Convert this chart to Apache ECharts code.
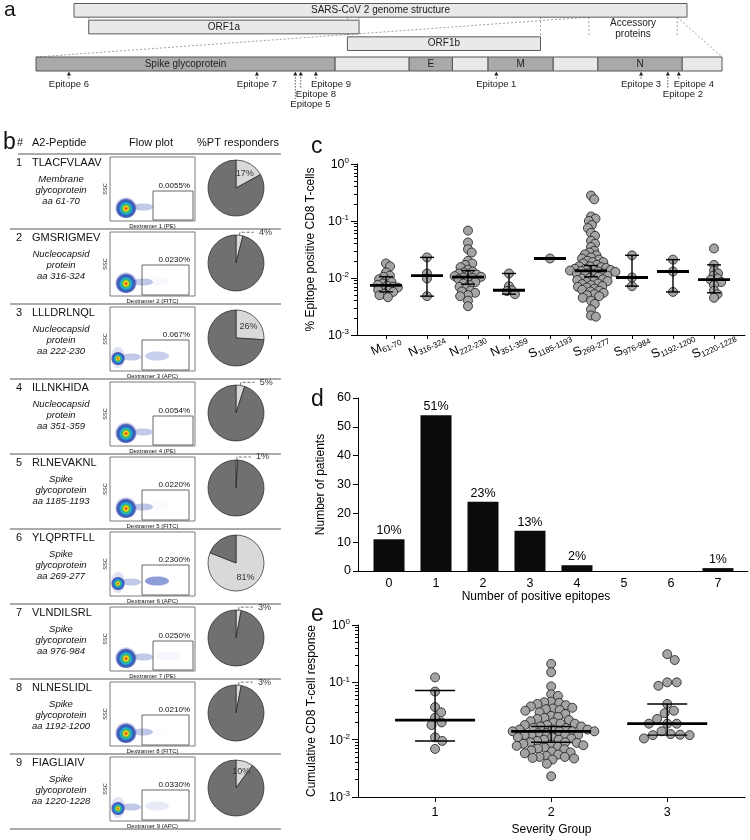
<!DOCTYPE html>
<html><head><meta charset="utf-8">
<script src="https://cdn.jsdelivr.net/npm/echarts@6/dist/echarts.min.js"></script>
<style>html,body{margin:0;padding:0;background:#fff}#chart{width:750px;height:840px}</style>
</head><body><div id="chart"></div>
<script>
// ================= DATA =================
// panel a (schematic units 0..1000)
const genomeNames = ['SARS-CoV 2 genome structure', 'ORF1a', 'ORF1b'];
const genomeStart = [0, 24, 446];
const genomeEnd = [1000, 465, 761];
const genomeRow = [0, 1, 2];
const connectorX = [24, 465, 446, 761, 840, 984];
const connectorRow = [1, 1, 2, 2, 2, 2];
const accessoryLabel = 'Accessory\nproteins';
const structNames = ['Spike glycoprotein', '', 'E', '', 'M', '', 'N', ''];
const structStart = [0, 436, 544, 607, 659, 754, 819, 942];
const structEnd = [436, 544, 607, 659, 754, 819, 942, 1000];
const structCoding = [1, 0, 1, 0, 1, 0, 1, 0];
const epitopeNames = ['Epitope 6', 'Epitope 7', 'Epitope 5', 'Epitope 8', 'Epitope 9', 'Epitope 1', 'Epitope 3', 'Epitope 2', 'Epitope 4'];
const epitopePos = [48, 322, 378, 386, 408, 671, 882, 921, 937];

// panel b
const peptides = ['TLACFVLAAV', 'GMSRIGMEV', 'LLLDRLNQL', 'ILLNKHIDA', 'RLNEVAKNL', 'YLQPRTFLL', 'VLNDILSRL', 'NLNESLIDL', 'FIAGLIAIV'];
const proteins = [
  ['Membrane', 'glycoprotein', 'aa 61-70'],
  ['Nucleocapsid', 'protein', 'aa 316-324'],
  ['Nucleocapsid', 'protein', 'aa 222-230'],
  ['Nucleocapsid', 'protein', 'aa 351-359'],
  ['Spike', 'glycoprotein', 'aa 1185-1193'],
  ['Spike', 'glycoprotein', 'aa 269-277'],
  ['Spike', 'glycoprotein', 'aa 976-984'],
  ['Spike', 'glycoprotein', 'aa 1192-1200'],
  ['Spike', 'glycoprotein', 'aa 1220-1228']
];
const gateLabels = ['0.0055%', '0.0230%', '0.067%', '0.0054%', '0.0220%', '0.2300%', '0.0250%', '0.0210%', '0.0330%'];
const dextramers = ['Dextramer 1 (PE)', 'Dextramer 2 (FITC)', 'Dextramer 3 (APC)', 'Dextramer 4 (PE)', 'Dextramer 5 (FITC)', 'Dextramer 6 (APC)', 'Dextramer 7 (PE)', 'Dextramer 8 (FITC)', 'Dextramer 9 (APC)'];
const ptResponders = [17, 4, 26, 5, 1, 81, 3, 3, 10];

// panel c
const cCatMain = ['M', 'N', 'N', 'N', 'S', 'S', 'S', 'S', 'S'];
const cCatSub = ['61-70', '316-324', '222-230', '351-359', '1185-1193', '269-277', '976-984', '1192-1200', '1220-1228'];
const cM61 = [0.018, 0.016, 0.0125, 0.011, 0.0105, 0.0095, 0.009, 0.0085, 0.008, 0.0076, 0.0073, 0.007, 0.0068, 0.0065, 0.0062, 0.006, 0.0057, 0.0053, 0.005, 0.0046];
const cN316 = [0.023, 0.012, 0.0098, 0.0048];
const cN222 = [0.068, 0.042, 0.032, 0.028, 0.02, 0.018, 0.017, 0.0155, 0.014, 0.013, 0.0125, 0.012, 0.0115, 0.011, 0.0108, 0.0105, 0.0102, 0.01, 0.0095, 0.009, 0.0085, 0.008, 0.0075, 0.007, 0.0065, 0.006, 0.0058, 0.0055, 0.005, 0.0048, 0.004, 0.0032];
const cN351 = [0.012, 0.0072, 0.0061, 0.0059, 0.0052];
const cS1185 = [0.022];
const cS269 = [0.28, 0.24, 0.12, 0.11, 0.1, 0.085, 0.075, 0.062, 0.055, 0.045, 0.04, 0.035, 0.03, 0.028, 0.026, 0.025, 0.023, 0.022, 0.021, 0.02, 0.019, 0.019, 0.018, 0.017, 0.016, 0.016, 0.0155, 0.015, 0.0145, 0.0145, 0.014, 0.0138, 0.0135, 0.0132, 0.013, 0.0128, 0.0125, 0.012, 0.0118, 0.0115, 0.0112, 0.011, 0.0105, 0.01, 0.0098, 0.0095, 0.0092, 0.009, 0.0088, 0.0085, 0.008, 0.0078, 0.0075, 0.0072, 0.007, 0.0068, 0.0065, 0.0062, 0.006, 0.0058, 0.0055, 0.0052, 0.005, 0.0048, 0.0045, 0.004, 0.0035, 0.0028, 0.0022, 0.0021];
const cS976 = [0.025, 0.0102, 0.0072];
const cS1192 = [0.021, 0.013, 0.0057];
const cS1220 = [0.033, 0.017, 0.0135, 0.012, 0.011, 0.0098, 0.0093, 0.0085, 0.0075, 0.006, 0.0052, 0.0045];
const cValues = [cM61, cN316, cN222, cN351, cS1185, cS269, cS976, cS1192, cS1220];
const cMedian = [0.0074, 0.011, 0.0104, 0.0061, 0.022, 0.0133, 0.0102, 0.013, 0.0094];
const cLow = [0.0057, 0.0048, 0.0078, 0.0052, 0.022, 0.0105, 0.0072, 0.0057, 0.0055];
const cHigh = [0.0105, 0.023, 0.0135, 0.012, 0.022, 0.0165, 0.025, 0.021, 0.017];

// panel d
const dCats = [0, 1, 2, 3, 4, 5, 6, 7];
const dCounts = [11, 54, 24, 14, 2, 0, 0, 1];
const dLabels = ['10%', '51%', '23%', '13%', '2%', '', '', '1%'];

// panel e
const eGroups = [1, 2, 3];
const eG1 = [0.122, 0.069, 0.037, 0.030, 0.024, 0.020, 0.018, 0.011, 0.0095, 0.0069];
const eG2 = [0.21, 0.15, 0.085, 0.062, 0.058, 0.046, 0.045, 0.044, 0.042, 0.04, 0.038, 0.036, 0.035, 0.034, 0.033, 0.032, 0.03, 0.028, 0.026, 0.025, 0.024, 0.023, 0.022, 0.021, 0.02, 0.019, 0.019, 0.018, 0.018, 0.017, 0.017, 0.016, 0.016, 0.015, 0.015, 0.015, 0.014, 0.014, 0.014, 0.014, 0.013, 0.013, 0.012, 0.012, 0.012, 0.012, 0.011, 0.011, 0.0105, 0.01, 0.01, 0.0095, 0.009, 0.009, 0.0088, 0.0085, 0.0082, 0.008, 0.0078, 0.0075, 0.0072, 0.007, 0.0068, 0.0065, 0.0062, 0.006, 0.0058, 0.0055, 0.0052, 0.005, 0.005, 0.0048, 0.0047, 0.0045, 0.0038, 0.0023];
const eG3 = [0.31, 0.245, 0.1, 0.1, 0.087, 0.042, 0.032, 0.029, 0.023, 0.019, 0.019, 0.019, 0.014, 0.0125, 0.0122, 0.012, 0.012, 0.0105];
const eValues = [eG1, eG2, eG3];
const eMedian = [0.022, 0.014, 0.019];
const eLow = [0.0095, 0.009, 0.012];
const eHigh = [0.072, 0.017, 0.042];

// ================= LAYOUT / STYLE =================
const FONT = '"Liberation Sans", Arial, Helvetica, sans-serif';
const BLACK = '#000';
const G = {
  a1: { left: 74, top: 2, width: 613, height: 50 },
  a2: { left: 36, top: 57, width: 686, height: 14 },
  tb: { left: 10, top: 154, width: 271, height: 675 },
  c: { left: 357, top: 164, width: 388, height: 171 },
  d: { left: 358, top: 398, width: 390, height: 173 },
  e: { left: 358, top: 625, width: 387, height: 172 }
};
const cX = { min: -0.707, max: 8.756 };
const dX = { min: -0.66, max: 7.64 };
const eX = { min: 0.336, max: 3.67 };
const epiTier = [0, 0, 2, 1, 0, 0, 0, 1, 0];
const epiLeft = [false, false, true, true, true, false, false, true, true];
const cSwarmGap = 5;            // px spacing between point centres (panel c)
const eSwarmGap = [8, 7, 9.5];  // px spacing between point centres (panel e groups)

function swarm(vals, pxPerX, pxPerDec, D) {
  const pts = vals.map(v => ({ v, y: Math.log10(v) * pxPerDec }));
  pts.sort((a, b) => b.y - a.y);
  const placed = [], out = [];
  for (const p of pts) {
    const cands = [0];
    for (const q of placed) {
      const dy = Math.abs(q.y - p.y);
      if (dy < D) { const h = Math.sqrt(D * D - dy * dy); cands.push(q.x + h, q.x - h); }
    }
    cands.sort((a, b) => (Math.abs(a) - Math.abs(b)) || (b - a));
    let x = 0;
    for (const c of cands) {
      let ok = true;
      for (const q of placed) {
        const dx = q.x - c, dy = q.y - p.y;
        if (dx * dx + dy * dy < D * D - 0.01) { ok = false; break; }
      }
      if (ok) { x = c; break; }
    }
    placed.push({ x, y: p.y });
    out.push([x / pxPerX, p.v]);
  }
  return out;
}

const cPxX = G.c.width / (cX.max - cX.min), cPxDec = G.c.height / 3;
const ePxX = G.e.width / (eX.max - eX.min), ePxDec = G.e.height / 3;
const cScatter = [];
cValues.forEach((vals, ci) => swarm(vals, cPxX, cPxDec, cSwarmGap).forEach(p => cScatter.push([ci + p[0], p[1]])));
const eScatter = [];
eValues.forEach((vals, gi) => swarm(vals, ePxX, ePxDec, eSwarmGap[gi]).forEach(p => eScatter.push([eGroups[gi] + p[0], p[1]])));

const minorLogTicks = [];
for (let e = -3; e < 0; e++) for (let k = 2; k <= 9; k++) minorLogTicks.push(Math.log10(k) + e);

function logLabel(v) {
  return '{b|10}{s|' + Math.round(Math.log10(v)) + '}';
}
const logRich = {
  b: { fontSize: 12.5, color: BLACK, fontFamily: FONT, verticalAlign: 'bottom' },
  s: { fontSize: 8, color: BLACK, fontFamily: FONT, verticalAlign: 'top', padding: [0, 0, 6, 0] }
};

function hiddenX(gi, max) { return { gridIndex: gi, type: 'value', min: 0, max: max, show: false }; }

function logYAxis(gi, name, gap) {
  return {
    gridIndex: gi, type: 'log', logBase: 10, min: 0.001, max: 1,
    name: name, nameLocation: 'middle', nameGap: gap,
    nameTextStyle: { fontSize: 12, color: BLACK, fontFamily: FONT },
    axisLine: { show: true, onZero: false, lineStyle: { color: BLACK, width: 1 } },
    axisTick: { show: true, length: 6, lineStyle: { color: BLACK } },
    axisLabel: { formatter: logLabel, rich: logRich, margin: 8 },
    splitLine: { show: false }
  };
}
function minorYAxis(gi) {
  return {
    gridIndex: gi, type: 'value', min: -3, max: 0, position: 'left',
    axisLine: { show: false, onZero: false },
    axisTick: { show: true, length: 3, customValues: minorLogTicks, lineStyle: { color: BLACK } },
    axisLabel: { show: false }, splitLine: { show: false }
  };
}

function makeErrRender(medHalf, capHalf) {
  return function (params, api) {
    const x = api.value(0), med = api.value(1), lo = api.value(2), hi = api.value(3);
    const pm = api.coord([x, med]);
    const ch = [];
    if (hi > lo) {
      const pl = api.coord([x, lo]), ph = api.coord([x, hi]);
      ch.push({ type: 'line', shape: { x1: pm[0], y1: pl[1], x2: pm[0], y2: ph[1] }, style: { stroke: BLACK, lineWidth: 1.4 } });
      ch.push({ type: 'line', shape: { x1: pm[0] - capHalf, y1: pl[1], x2: pm[0] + capHalf, y2: pl[1] }, style: { stroke: BLACK, lineWidth: 1.4 } });
      ch.push({ type: 'line', shape: { x1: pm[0] - capHalf, y1: ph[1], x2: pm[0] + capHalf, y2: ph[1] }, style: { stroke: BLACK, lineWidth: 1.4 } });
    }
    ch.push({ type: 'line', shape: { x1: pm[0] - medHalf, y1: pm[1], x2: pm[0] + medHalf, y2: pm[1] }, style: { stroke: BLACK, lineWidth: 2.8 } });
    return { type: 'group', children: ch };
  };
}

// ---------- panel a renderers ----------
function renderGenome(params, api) {
  const i = params.dataIndex;
  const s = api.coord([genomeStart[i], genomeRow[i]]);
  const e = api.coord([genomeEnd[i], genomeRow[i]]);
  const h = api.size([0, 1])[1] * 0.82;
  return {
    type: 'group', children: [
      { type: 'rect', shape: { x: s[0], y: s[1] - h / 2, width: e[0] - s[0], height: h }, style: { fill: '#e9e9e9', stroke: '#5a5a5a', lineWidth: 1 } },
      { type: 'text', x: (s[0] + e[0]) / 2, y: s[1], style: { text: genomeNames[i], fontSize: 10, fontFamily: FONT, fill: '#222', align: 'center', verticalAlign: 'middle' } }
    ]
  };
}
function renderConnector(params, api) {
  const i = params.dataIndex;
  const band = api.size([0, 1])[1];
  const top = api.coord([connectorX[i], 0]);
  const bot = api.coord([connectorX[i], connectorRow[i]]);
  return { type: 'line', shape: { x1: top[0], y1: top[1] + band * 0.41, x2: top[0], y2: bot[1] - band * 0.41 }, style: { stroke: '#888', lineWidth: 0.8, lineDash: [2, 2] } };
}
function renderStruct(params, api) {
  const i = params.dataIndex;
  const s = api.coord([structStart[i], 0]);
  const e = api.coord([structEnd[i], 0]);
  const h = api.size([0, 1])[1];
  return {
    type: 'group', children: [
      { type: 'rect', shape: { x: s[0], y: s[1] - h / 2, width: e[0] - s[0], height: h }, style: { fill: structCoding[i] ? '#a9a9a9' : '#e9e9e9', stroke: '#555', lineWidth: 1 } },
      { type: 'text', x: (s[0] + e[0]) / 2, y: s[1], style: { text: structNames[i], fontSize: 10, fontFamily: FONT, fill: '#222', align: 'center', verticalAlign: 'middle' } }
    ]
  };
}
function renderEpitope(params, api) {
  const i = params.dataIndex;
  const p = api.coord([epitopePos[i], 0]);
  const h = api.size([0, 1])[1];
  const barB = p[1] + h / 2;
  const tier = epiTier[i];
  const labelY = barB + 13 + tier * 10;
  const x = p[0];
  return {
    type: 'group', children: [
      { type: 'line', shape: { x1: x, y1: barB + 3, x2: x, y2: labelY - 5 }, style: { stroke: '#333', lineWidth: 0.8, lineDash: [1.5, 1.5] } },
      { type: 'polygon', shape: { points: [[x, barB + 0.5], [x - 2, barB + 4.5], [x + 2, barB + 4.5]] }, style: { fill: '#222' } },
      { type: 'text', x: epiLeft[i] ? x - 5 : x, y: labelY, style: { text: epitopeNames[i], fontSize: 9.5, fontFamily: FONT, fill: '#222', align: epiLeft[i] ? 'left' : 'center', verticalAlign: 'middle' } }
    ]
  };
}

// ---------- panel b renderer ----------
function renderRow(params, api) {
  const i = api.value(1);
  const c = api.coord([0, i]);
  const band = api.size([0, 1])[1];
  const T = c[1] - band / 2, L = c[0];
  const boxL = L + 100, boxR = L + 185, boxT = T + 3, boxB = T + 67;
  const ch = (dextramers[i].match(/\((\w+)\)/) || [])[1];
  const narrow = ch === 'PE', apc = ch === 'APC';
  const gL = narrow ? boxL + 43 : boxL + 32, gR = narrow ? boxR - 2 : boxR - 6;
  const gT = boxB - (narrow ? 30 : 31), gB = boxB - 1;
  const bx = apc ? boxL + 8 : boxL + 16, by = boxB - 13.5, brx = apc ? 7 : 11, bry = 10.5;
  const pct = parseFloat(gateLabels[i]);
  const gatedAlpha = Math.max(0, Math.min(0.6, (Math.log10(pct) + 1.7) * 0.5));
  const blobFill = new echarts.graphic.RadialGradient(0.5, 0.55, 0.5, [
    { offset: 0, color: '#e0161c' }, { offset: 0.12, color: '#f08a1c' }, { offset: 0.22, color: '#efe21e' },
    { offset: 0.35, color: '#49b649' }, { offset: 0.5, color: '#22b2d8' }, { offset: 0.7, color: '#2f5ab5' },
    { offset: 0.88, color: 'rgba(40,60,170,0.75)' }, { offset: 1, color: 'rgba(40,60,170,0.15)' }
  ]);
  const txt = (x, y, t, size, extra) => Object.assign({ type: 'text', x: x, y: y, style: Object.assign({ text: t, fontSize: size, fontFamily: FONT, fill: '#111', align: 'left', verticalAlign: 'middle' }, extra || {}) });
  const kids = [
    { type: 'line', shape: { x1: L, y1: T + band, x2: L + 271, y2: T + band }, style: { stroke: '#8f8f8f', lineWidth: 1.3 } },
    txt(L + 12, T + 9, String(i + 1), 11, { align: 'right' }),
    txt(L + 22, T + 9, peptides[i], 11),
    { type: 'rect', shape: { x: boxL, y: boxT, width: boxR - boxL, height: boxB - boxT }, style: { fill: '#fff', stroke: '#7a7a7a', lineWidth: 1 } },
    { type: 'ellipse', shape: { cx: bx + brx + 6, cy: by - 0.5, rx: 10, ry: 3.5 }, style: { fill: 'rgba(45,75,185,0.3)' } },
    { type: 'ellipse', shape: { cx: gL + 15, cy: gB - 14, rx: 12, ry: 4.5 }, style: { fill: 'rgba(40,70,180,' + gatedAlpha.toFixed(2) + ')' } },
    { type: 'ellipse', shape: { cx: bx, cy: by, rx: brx, ry: bry }, style: { fill: blobFill } },
    { type: 'rect', shape: { x: gL, y: gT, width: gR - gL, height: gB - gT }, style: { fill: 'none', stroke: '#555', lineWidth: 0.9 } },
    txt(boxR - 5, gT - 5, gateLabels[i], 8, { align: 'right' }),
    { type: 'text', x: boxL - 5, y: (boxT + boxB) / 2, rotation: Math.PI / 2, style: { text: 'SSC', fontSize: 5.5, fontFamily: FONT, fill: '#222', align: 'center', verticalAlign: 'middle' } },
    txt((boxL + boxR) / 2, boxB + 5, dextramers[i], 6, { align: 'center' })
  ];
  proteins[i].forEach((t, k) => kids.push(txt(L + 51, T + 25 + 11 * k, t, 9.5, { align: 'center', fontStyle: 'italic' })));
  if (i === 0) kids.push({ type: 'line', shape: { x1: L + 8, y1: T, x2: L + 271, y2: T }, style: { stroke: '#8f8f8f', lineWidth: 1.3 } });
  return { type: 'group', children: kids };
}

// ---------- pies ----------
const pieSeries = ptResponders.map((p, i) => ({
  type: 'pie', radius: 28, center: [G.tb.left + 226, G.tb.top + 75 * i + 34],
  startAngle: 90, clockwise: true, avoidLabelOverlap: false, silent: true,
  itemStyle: { borderColor: '#222', borderWidth: 0.7 },
  data: [
    { value: p, name: 'responders', itemStyle: { color: '#d9d9d9' },
      label: { show: true, position: p < 8 ? 'outside' : 'inside', formatter: p + '%', fontSize: 9, color: '#333', fontFamily: FONT },
      labelLine: { show: p < 8, length: 3, length2: 14, lineStyle: { type: 'dashed', color: '#555', width: 0.8 } } },
    { value: 100 - p, name: 'non-responders', itemStyle: { color: '#707070' }, label: { show: false }, labelLine: { show: false } }
  ]
}));

const option = {
  animation: false,
  textStyle: { fontFamily: FONT },
  grid: [G.a1, G.a2, G.tb, G.c, G.d, G.e].map(g => Object.assign({ containLabel: false }, g)),
  xAxis: [
    hiddenX(0, 1000), hiddenX(1, 1000), hiddenX(2, 1),
    { gridIndex: 3, type: 'value', min: cX.min, max: cX.max,
      axisLine: { show: true, onZero: false, lineStyle: { color: BLACK, width: 1 } },
      axisTick: { show: true, length: 4, customValues: cCatMain.map((_, i) => i), lineStyle: { color: BLACK } },
      axisLabel: { customValues: cCatMain.map((_, i) => i), rotate: 25, align: 'center', verticalAlign: 'middle', margin: 11,
        formatter: v => '{m|' + cCatMain[Math.round(v)] + '}{s|' + cCatSub[Math.round(v)] + '}',
        rich: { m: { fontSize: 12.5, color: BLACK, fontFamily: FONT, verticalAlign: 'top' },
                s: { fontSize: 8, color: BLACK, fontFamily: FONT, verticalAlign: 'bottom', padding: [6, 0, 0, 0] } } },
      splitLine: { show: false } },
    { gridIndex: 4, type: 'value', min: dX.min, max: dX.max,
      name: 'Number of positive epitopes', nameLocation: 'middle', nameGap: 19,
      nameTextStyle: { fontSize: 12, color: BLACK, fontFamily: FONT, padding: [0, 34, 0, 0] },
      axisLine: { show: true, onZero: false, lineStyle: { color: BLACK, width: 1 } },
      axisTick: { show: false },
      axisLabel: { customValues: dCats, fontSize: 12.5, color: BLACK, margin: 6 },
      splitLine: { show: false } },
    { gridIndex: 5, type: 'value', min: eX.min, max: eX.max,
      name: 'Severity Group', nameLocation: 'middle', nameGap: 27,
      nameTextStyle: { fontSize: 12, color: BLACK, fontFamily: FONT },
      axisLine: { show: true, onZero: false, lineStyle: { color: BLACK, width: 1 } },
      axisTick: { show: true, length: 5, customValues: eGroups, lineStyle: { color: BLACK } },
      axisLabel: { customValues: eGroups, fontSize: 12.5, color: BLACK, margin: 9 },
      splitLine: { show: false } }
  ],
  yAxis: [
    { gridIndex: 0, type: 'category', data: genomeNames, inverse: true, show: false },
    { gridIndex: 1, type: 'category', data: ['structural'], show: false },
    { gridIndex: 2, type: 'category', data: peptides, inverse: true, show: false },
    logYAxis(3, '% Epitope positive CD8 T-cells', 36),
    minorYAxis(3),
    { gridIndex: 4, type: 'value', min: 0, max: 60, interval: 10,
      name: 'Number of patients', nameLocation: 'middle', nameGap: 26,
      nameTextStyle: { fontSize: 12, color: BLACK, fontFamily: FONT },
      axisLine: { show: true, onZero: false, lineStyle: { color: BLACK, width: 1 } },
      axisTick: { show: true, length: 5, lineStyle: { color: BLACK } },
      axisLabel: { fontSize: 12.5, color: BLACK, margin: 7 },
      splitLine: { show: false } },
    logYAxis(5, 'Cumulative CD8 T-cell response', 33),
    minorYAxis(5)
  ],
  series: [
    { type: 'custom', xAxisIndex: 0, yAxisIndex: 0, renderItem: renderConnector, data: connectorX.map((x, i) => [x, connectorRow[i]]), silent: true, z: 1 },
    { type: 'custom', xAxisIndex: 0, yAxisIndex: 0, renderItem: renderGenome, data: genomeNames.map((n, i) => [genomeStart[i], genomeRow[i]]), silent: true, z: 2 },
    { type: 'custom', xAxisIndex: 1, yAxisIndex: 1, renderItem: renderStruct, data: structNames.map((n, i) => [structStart[i], 0]), silent: true },
    { type: 'custom', xAxisIndex: 1, yAxisIndex: 1, renderItem: renderEpitope, data: epitopePos.map(p => [p, 0]), silent: true },
    { type: 'custom', xAxisIndex: 2, yAxisIndex: 2, renderItem: renderRow, data: peptides.map((p, i) => [0, i]), silent: true },
    ...pieSeries,
    { type: 'scatter', xAxisIndex: 3, yAxisIndex: 3, data: cScatter, symbolSize: 9, silent: true, z: 2,
      itemStyle: { color: '#a4a4a4', borderColor: '#1a1a1a', borderWidth: 0.8, opacity: 1 } },
    { type: 'custom', xAxisIndex: 3, yAxisIndex: 3, renderItem: makeErrRender(16, 7), silent: true, z: 4,
      data: cMedian.map((m, i) => [i, m, cLow[i], cHigh[i]]) },
    { type: 'bar', xAxisIndex: 4, yAxisIndex: 5, barWidth: 31, silent: true,
      data: dCounts.map((v, i) => [dCats[i], v]),
      itemStyle: { color: '#0b0b0b' },
      label: { show: true, position: 'top', distance: 2, formatter: p => dLabels[p.dataIndex], fontSize: 12.5, color: BLACK, fontFamily: FONT } },
    { type: 'scatter', xAxisIndex: 5, yAxisIndex: 6, data: eScatter, symbolSize: 9, silent: true, z: 2,
      itemStyle: { color: '#a4a4a4', borderColor: '#1a1a1a', borderWidth: 0.8, opacity: 1 } },
    { type: 'custom', xAxisIndex: 5, yAxisIndex: 6, renderItem: makeErrRender(40, 20), silent: true, z: 4,
      data: eMedian.map((m, i) => [eGroups[i], m, eLow[i], eHigh[i]]) }
  ]
};

const chart = echarts.init(document.getElementById('chart'), null, { renderer: 'canvas', width: 750, height: 840 });
chart.setOption(option);

// overlay graphics (connectors between panels, labels, headers)
const a1c0 = chart.convertToPixel({ gridIndex: 0 }, [0, 0]);
const a1c1 = chart.convertToPixel({ gridIndex: 0 }, [0, 1]);
const band1 = a1c1[1] - a1c0[1];
const genomeBottom = a1c0[1] + band1 * 0.41;
const a2c = chart.convertToPixel({ gridIndex: 1 }, [0, 0]);
const structTop = a2c[1] - G.a2.height / 2;
const accL = chart.convertToPixel({ gridIndex: 0 }, [connectorX[4], 1]);
const accR = chart.convertToPixel({ gridIndex: 0 }, [connectorX[5], 1]);
const dL1 = chart.convertToPixel({ gridIndex: 0 }, [connectorX[4], 0]);
const dR1 = chart.convertToPixel({ gridIndex: 0 }, [connectorX[5], 0]);
const sL = chart.convertToPixel({ gridIndex: 1 }, [structStart[0], 0]);
const sR = chart.convertToPixel({ gridIndex: 1 }, [structEnd[structEnd.length - 1], 0]);
const T = (x, y, t, size, extra) => ({ type: 'text', x: x, y: y, silent: true, style: Object.assign({ text: t, fontSize: size, fontFamily: FONT, fill: '#111', align: 'left', verticalAlign: 'middle' }, extra || {}) });
chart.setOption({
  graphic: [
    { type: 'line', silent: true, shape: { x1: dL1[0], y1: genomeBottom, x2: sL[0], y2: structTop }, style: { stroke: '#888', lineWidth: 0.8, lineDash: [2, 2] } },
    { type: 'line', silent: true, shape: { x1: dR1[0], y1: genomeBottom, x2: sR[0], y2: structTop }, style: { stroke: '#888', lineWidth: 0.8, lineDash: [2, 2] } },
    T((accL[0] + accR[0]) / 2, accL[1] + 2, accessoryLabel, 10, { align: 'center', lineHeight: 11, fill: '#222' }),
    T(4, 10, 'a', 21),
    T(3, 143, 'b', 23),
    T(17, 143, '#', 11),
    T(32, 143, 'A2-Peptide', 11),
    T(151, 143, 'Flow plot', 11, { align: 'center' }),
    T(238, 143, '%PT responders', 11, { align: 'center' }),
    T(311, 147, 'c', 23),
    T(311, 400, 'd', 23),
    T(311, 615, 'e', 23)
  ]
});
</script>
</body></html>
